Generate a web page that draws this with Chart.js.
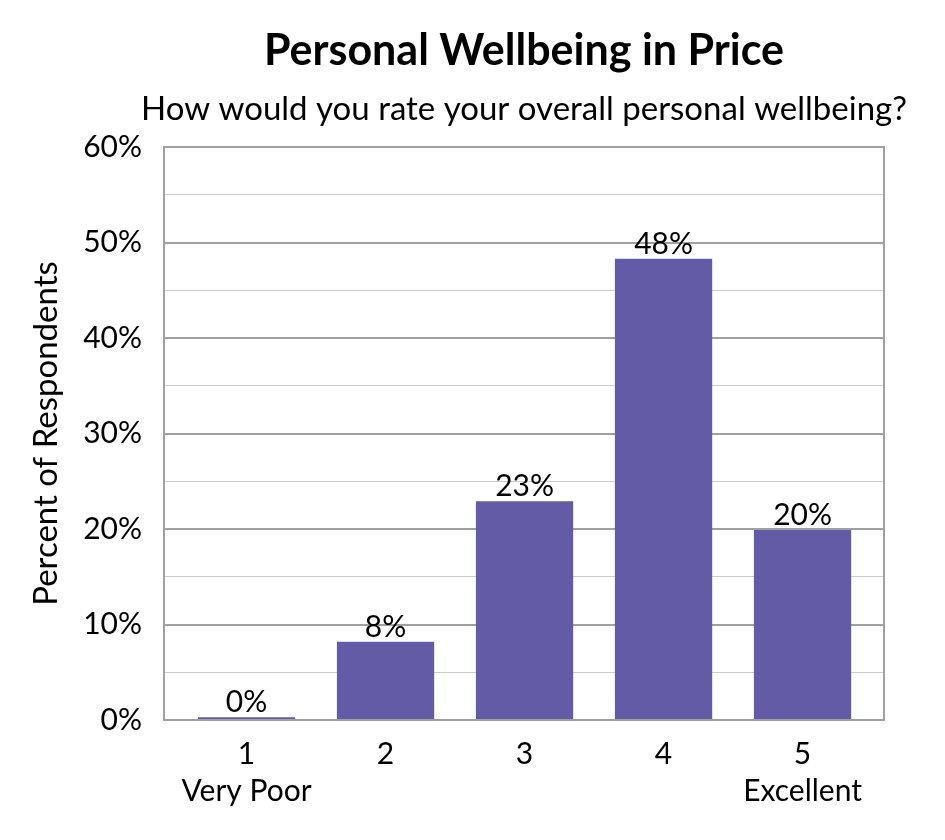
<!DOCTYPE html>
<html>
<head>
<meta charset="utf-8">
<script src="https://cdn.jsdelivr.net/npm/chart.js@4.4.1/dist/chart.umd.min.js"></script>
<style>
  html, body { margin: 0; padding: 0; background: #fff; }
  #wrap { width: 945px; height: 840px; }
</style>
</head>
<body>
<div id="wrap"><canvas id="myChart" width="945" height="840"></canvas></div>
<script>
const ratings = [1, 2, 3, 4, 5];
const ratingNames = ["Very Poor", "", "", "", "Excellent"];
const percentRespondents = [0.3, 8.2, 22.9, 48.3, 19.9];
const yTickValues = [0, 10, 20, 30, 40, 50, 60];
const subtitleText = "How would you rate your overall personal wellbeing?";

const FONT = "Lato, 'Open Sans', sans-serif";
const barColor = "#635ba5";
Chart.defaults.color = "#000";
Chart.defaults.font.family = FONT;

// box round the plot area
const plotBox = {
    id: "plotBox",
    afterDraw(chart) {
        const a = chart.chartArea;
        const c = chart.ctx;
        c.save();
        c.strokeStyle = "#a0a0a0";
        c.lineWidth = 2;
        c.strokeRect(a.left, a.top, a.right - a.left, a.bottom - a.top);
        c.restore();
    }
};

// subtitle wider than the plot, so drawn here (built-in one gets squeezed)
const wideSubtitle = {
    id: "wideSubtitle",
    afterDraw(chart) {
        const a = chart.chartArea;
        const c = chart.ctx;
        c.save();
        c.font = "33px " + FONT;
        c.fillStyle = "#000";
        c.textAlign = "center";
        c.textBaseline = "middle";
        c.fillText(subtitleText, (a.left + a.right) / 2, 109);
        c.restore();
    }
};

// value on top of each bar
const barLabels = {
    id: "barLabels",
    afterDatasetsDraw(chart) {
        const c = chart.ctx;
        const meta = chart.getDatasetMeta(0);
        c.save();
        c.font = "30px " + FONT;
        c.fillStyle = "#000";
        c.textAlign = "center";
        c.textBaseline = "alphabetic";
        meta.data.forEach((bar, i) => {
            c.fillText(Math.round(percentRespondents[i]) + "%", bar.x, bar.y - 5);
        });
        c.restore();
    }
};

const ctx = document.querySelector("#myChart").getContext("2d");
const wellbeingChart = new Chart(ctx, {
    type: "bar",
    data: {
        datasets: [{
            data: ratings.map((r, i) => ({ x: r, y: percentRespondents[i] })),
            backgroundColor: barColor,
            categoryPercentage: 0.7,
            barPercentage: 1
        }]
    },
    options: {
        responsive: false,
        animation: false,
        layout: { padding: { left: 0, right: 61, top: 0, bottom: 0 } },
        plugins: {
            legend: { display: false },
            tooltip: { enabled: false },
            title: {
                display: true,
                text: "Personal Wellbeing in Price",
                fullSize: false,
                font: { size: 43, weight: "bold" },
                padding: { top: 25, bottom: 70.4 }
            }
        },
        scales: {
            x: {
                type: "linear",
                offset: false,
                min: 0.406,
                max: 5.586,
                afterBuildTicks: s => { s.ticks = ratings.map(v => ({ value: v })); },
                afterFit: s => { s.height = 120; },
                grid: { display: false, drawTicks: false, offset: false },
                border: { display: false },
                ticks: {
                    padding: 16,
                    autoSkip: false,
                    maxRotation: 0,
                    font: { size: 30, lineHeight: 1.23 },
                    callback: v => {
                        const i = ratings.indexOf(v);
                        return ratingNames[i] ? [String(v), ratingNames[i]] : String(v);
                    }
                }
            },
            y: {
                min: 0,
                max: 60,
                afterBuildTicks: s => {
                    const t = [];
                    for (let v = 0; v <= 60; v += 5) t.push({ value: v });
                    s.ticks = t;
                },
                afterFit: s => { s.width = 164; },
                grid: {
                    drawTicks: false,
                    color: c => (c.tick.value % 10 === 0 ? "#a0a0a0" : "#cccccc"),
                    lineWidth: c => (c.tick.value % 10 === 0 ? 2 : 1)
                },
                border: { display: false },
                ticks: {
                    padding: 22,
                    font: { size: 30 },
                    callback: v => (yTickValues.includes(v) ? v + "%" : "")
                },
                title: {
                    display: true,
                    text: "Percent of Respondents",
                    font: { size: 33 },
                    padding: { top: 27, bottom: 0 }
                }
            }
        }
    },
    plugins: [plotBox, wideSubtitle, barLabels]
});
</script>
</body>
</html>
